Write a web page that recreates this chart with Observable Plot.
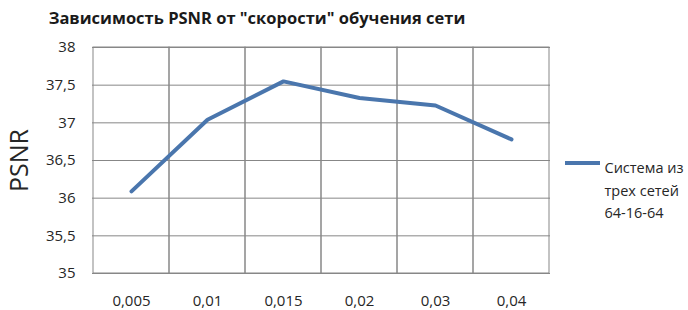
<!DOCTYPE html>
<html><head><meta charset="utf-8">
<script src="https://cdn.jsdelivr.net/npm/d3@7"></script>
<script src="https://cdn.jsdelivr.net/npm/@observablehq/plot@0.6"></script>
<style>body{margin:0;background:#fff} #chart svg{display:block}</style>
</head><body><div id="chart"></div>
<script>
const rates = ["0,005", "0,01", "0,015", "0,02", "0,03", "0,04"];
const psnr = [36.09, 37.04, 37.55, 37.33, 37.23, 36.78];
const yTicks = [35, 35.5, 36, 36.5, 37, 37.5, 38];
const title = 'Зависимость PSNR от "скорости" обучения сети';
const yLabel = "PSNR";
const legendLines = ["Система из", "трех сетей", "64-16-64"];

const data = rates.map((r, i) => ({rate: r, psnr: psnr[i]}));
const font = "'Open Sans', sans-serif";
const lineColor = "#4a76ad";
const gridColor = "#878787";

const legendSwatch = (index, scales, values, dim) => {
  const x0 = dim.width - dim.marginRight + 15;
  const y0 = dim.marginTop + 116;
  return d3.create("svg:line")
    .attr("x1", x0).attr("x2", x0 + 35)
    .attr("y1", y0).attr("y2", y0)
    .attr("stroke", lineColor).attr("stroke-width", 4)
    .node();
};

const chart = Plot.plot({
  width: 688, height: 310,
  marginLeft: 92, marginRight: 138, marginTop: 47, marginBottom: 37,
  style: {fontFamily: font, fontSize: "15px", background: "#fff", color: "#262626"},
  x: {type: "band", domain: rates, padding: 0, label: null, tickSize: 0, tickPadding: 22},
  y: {domain: [35, 38], ticks: yTicks, tickFormat: d => String(d).replace(".", ","), label: null, tickSize: 0, tickPadding: 17},
  marks: [
    Plot.ruleY(yTicks, {stroke: gridColor, strokeWidth: 1}),
    Plot.barY(rates, {x: d => d, y1: () => 35, y2: () => 38, fill: "none", stroke: gridColor, strokeWidth: 1}),
    Plot.line(data, {x: "rate", y: "psnr", stroke: lineColor, strokeWidth: 4, strokeLinecap: "round", strokeLinejoin: "round"}),
    Plot.text([title], {frameAnchor: "top-left", dx: 164.5, dy: -35, textAnchor: "middle", fontWeight: "bold", fontSize: 16.5, fill: "#1a1a1a"}),
    Plot.text([yLabel], {frameAnchor: "left", dx: -73, rotate: -90, textAnchor: "middle", fontSize: 25, fill: "#262626"}),
    Plot.text([legendLines.join("\n")], {frameAnchor: "top-right", dx: 54, dy: 110, textAnchor: "start", lineAnchor: "top", lineHeight: 1.55, fontSize: 14.5, fill: "#262626"}),
    legendSwatch
  ]
});
document.getElementById("chart").appendChild(chart);
</script>
</body></html>
